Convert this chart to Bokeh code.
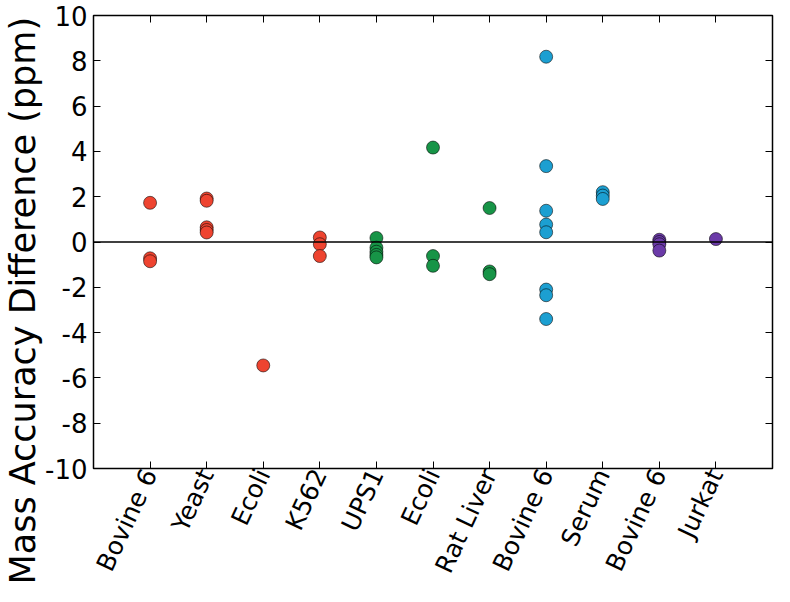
import math
from bokeh.plotting import figure
from bokeh.models import (ColumnDataSource, FixedTicker, LinearAxis, Span, Range1d, Title)
from bokeh.embed import file_html
from bokeh.resources import INLINE

# ---- data ----
sample_labels = ["Bovine 6", "Yeast", "Ecoli", "K562", "UPS1", "Ecoli",
                 "Rat Liver", "Bovine 6", "Serum", "Bovine 6", "Jurkat"]
group_colors = ["#ee4430", "#ee4430", "#ee4430", "#ee4430",
                "#179447", "#179447", "#179447",
                "#1c9fd1", "#1c9fd1",
                "#6b3aa8", "#6b3aa8"]

bovine6_a = [1.73, -0.72, -0.85]
yeast = [1.92, 1.82, 0.65, 0.53, 0.42]
ecoli_a = [-5.45]
k562 = [0.2, -0.1, -0.62]
ups1 = [0.18, -0.25, -0.43, -0.57, -0.68]
ecoli_b = [4.17, -0.62, -1.05]
rat_liver = [1.5, -1.3, -1.42]
bovine6_b = [8.18, 3.35, 1.38, 0.77, 0.43, -2.1, -2.35, -3.4]
serum = [2.2, 2.05, 1.9]
bovine6_c = [0.1, 0.0, -0.1, -0.38]
jurkat = [0.13]

groups = [bovine6_a, yeast, ecoli_a, k562, ups1, ecoli_b, rat_liver,
          bovine6_b, serum, bovine6_c, jurkat]

y_ticks = [-10, -8, -6, -4, -2, 0, 2, 4, 6, 8, 10]
y_tick_labels = ["-10", "-8", "-6", "-4", "-2", "0", "2", "4", "6", "8", "10"]
y_title = "Mass Accuracy Difference (ppm)"

xs, ys, cs = [], [], []
for i, (vals, col) in enumerate(zip(groups, group_colors)):
    for v in vals:
        xs.append(i + 1)
        ys.append(v)
        cs.append(col)
src = ColumnDataSource(dict(x=xs, y=ys, c=cs))

FONT = "DejaVu Sans"
positions = list(range(1, len(sample_labels) + 1))

p = figure(width=774, height=586, output_backend="svg", toolbar_location=None,
           x_range=Range1d(0, len(sample_labels) + 1), y_range=Range1d(-10, 10),
           min_border_left=87, min_border_right=2, min_border_top=15,
           min_border_bottom=10)
p.background_fill_color = "white"
p.border_fill_color = "white"
p.outline_line_color = "black"
p.outline_line_width = 1.5
p.xgrid.visible = False
p.ygrid.visible = False

# zero line
p.add_layout(Span(location=0, dimension="width", line_color="black", line_width=1.5))

p.scatter("x", "y", source=src, size=13, fill_color="c", line_color="black",
          line_alpha=0.55, line_width=1)

# bottom axis
xa = p.xaxis[0]
xa.ticker = FixedTicker(ticks=positions)
xa.major_label_overrides = {pos: lab for pos, lab in zip(positions, sample_labels)}
xa.major_label_orientation = math.radians(65)
xa.major_label_text_font = FONT
xa.major_label_text_font_size = "25px"
xa.major_label_text_color = "black"
xa.major_label_standoff = 2
xa.major_tick_in = 7
xa.major_tick_out = 0
xa.minor_tick_line_color = None
xa.axis_line_color = None
xa.major_tick_line_color = "black"

# left axis (title drawn as a side title so it can sit lower than centre)
ya = p.yaxis[0]
ya.ticker = FixedTicker(ticks=y_ticks)
ya.major_label_overrides = {t: s for t, s in zip(y_ticks, y_tick_labels)}
ya.major_label_text_font = FONT
ya.major_label_text_font_size = "26px"
ya.major_label_text_color = "black"
ya.major_label_standoff = 6
ya.major_tick_in = 7
ya.major_tick_out = 0
ya.minor_tick_line_color = None
ya.axis_line_color = None

ytitle = Title(text=y_title, align="left", offset=-116, text_font=FONT,
               text_font_size="35px", text_font_style="normal", text_color="black",
               standoff=0)
p.add_layout(ytitle, "left")

# top and right axes (ticks only)
top = LinearAxis(ticker=FixedTicker(ticks=positions), major_tick_in=7, major_tick_out=0,
                 minor_tick_line_color=None, axis_line_color=None,
                 major_label_text_font_size="1px", major_label_text_color=None,
                 major_label_standoff=0)
right = LinearAxis(ticker=FixedTicker(ticks=y_ticks), major_tick_in=7, major_tick_out=0,
                   minor_tick_line_color=None, axis_line_color=None,
                   major_label_text_font_size="1px", major_label_text_color=None,
                   major_label_standoff=0)
p.add_layout(top, "above")
p.add_layout(right, "right")

open("out.html", "w").write(file_html(p, INLINE))
